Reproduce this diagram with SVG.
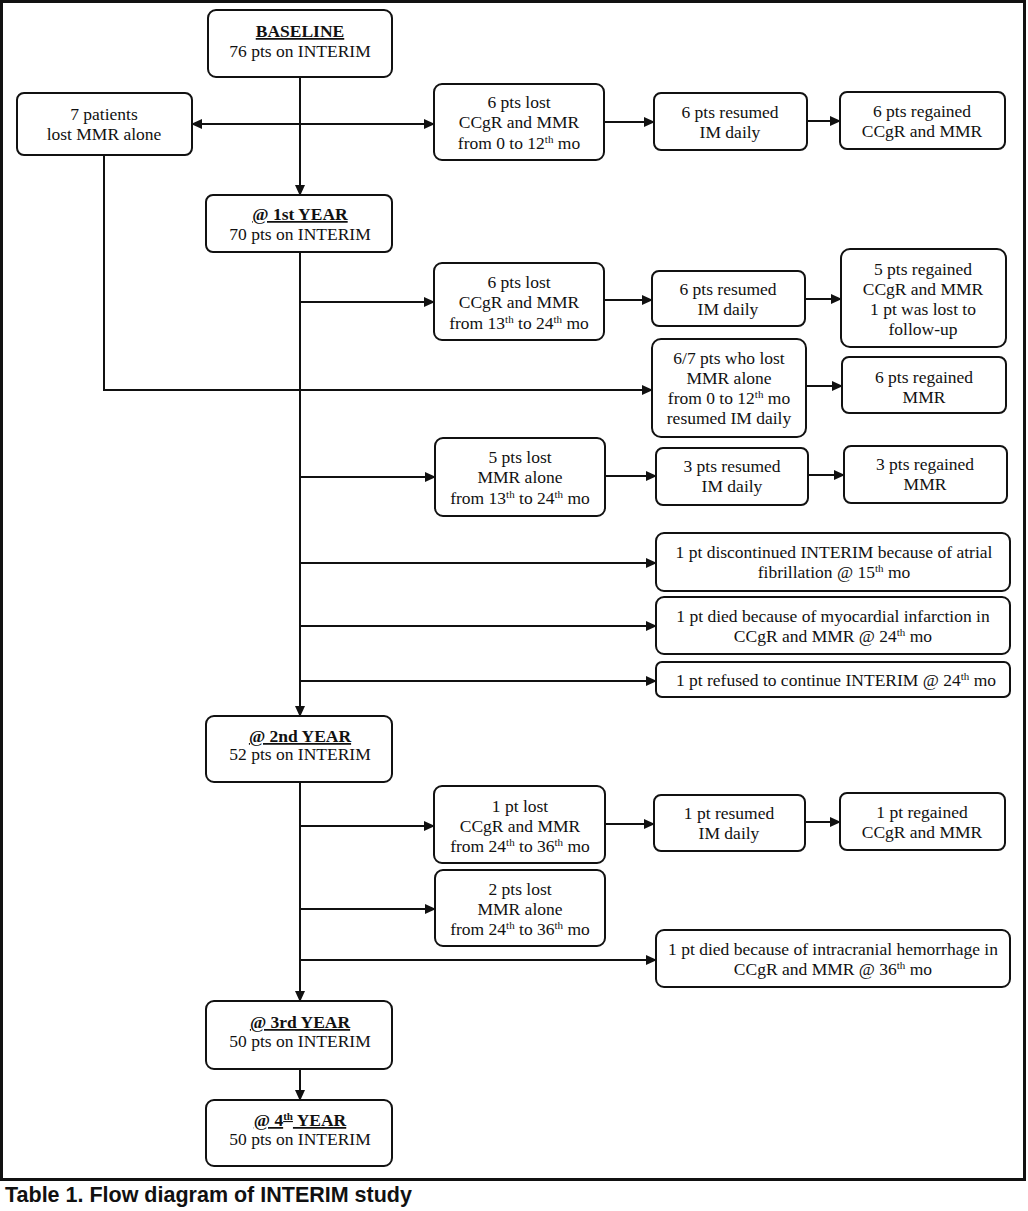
<svg xmlns="http://www.w3.org/2000/svg" width="1028" height="1211" viewBox="0 0 1028 1211">
<style>
.b{fill:#fff;stroke:#111;stroke-width:2}
.t{font-family:"Liberation Serif","Times New Roman",serif;font-size:17.5px;fill:#111;text-anchor:middle}
.w{font-size:17.5px}
.h{font-weight:bold;text-decoration:underline}
.c{fill:none;stroke:#111;stroke-width:2}
.sup{font-size:11px}
</style>
<defs>
<marker id="ah" markerWidth="11" markerHeight="10" refX="10" refY="5" orient="auto-start-reverse" markerUnits="userSpaceOnUse">
<path d="M0,0 L11,5 L0,10 z" fill="#111"/>
</marker>
</defs>
<rect x="0" y="0" width="1028" height="1211" fill="#fff"/>
<rect x="1.5" y="1.5" width="1023" height="1178" fill="none" stroke="#111" stroke-width="3"/>

<g id="connectors" class="c" marker-end="url(#ah)">
<path d="M300 77 V195"/>
<path d="M192 124 H434" marker-start="url(#ah)"/>
<path d="M604 122 H654"/>
<path d="M807 121 H840"/>
<path d="M300 252 V716"/>
<path d="M300 302 H434"/>
<path d="M604 300 H652"/>
<path d="M805 299 H841"/>
<path d="M104 155 V390 H652"/>
<path d="M806 386 H842"/>
<path d="M300 477 H435"/>
<path d="M605 476 H656"/>
<path d="M808 475 H844"/>
<path d="M300 563 H656"/>
<path d="M300 626 H656"/>
<path d="M300 681 H656"/>
<path d="M300 782 V1001"/>
<path d="M300 826 H434"/>
<path d="M605 824 H654"/>
<path d="M805 822 H840"/>
<path d="M300 909 H435"/>
<path d="M300 960 H656"/>
<path d="M300 1069 V1100"/>
</g>

<g id="baseline"><rect class="b" x="208" y="10" width="184" height="67" rx="8"/>
<text class="t" x="300" y="37"><tspan class="h">BASELINE</tspan></text>
<text class="t" x="300" y="57">76 pts on INTERIM</text></g>

<g id="seven"><rect class="b" x="17" y="93" width="175" height="62" rx="7"/>
<text class="t" x="104" y="120">7 patients</text>
<text class="t" x="104" y="140">lost MMR alone</text></g>

<g id="year1"><rect class="b" x="206" y="195" width="186" height="57" rx="7"/>
<text class="t" x="300" y="220"><tspan class="h">@ 1st YEAR</tspan></text>
<text class="t" x="300" y="240">70 pts on INTERIM</text></g>

<g id="lost1"><rect class="b" x="434" y="84" width="170" height="76" rx="8"/>
<text class="t" x="519" y="108">6 pts lost</text>
<text class="t" x="519" y="128">CCgR and MMR</text>
<text class="t" x="519" y="149">from 0 to 12<tspan class="sup" dy="-6">th</tspan><tspan dy="6"> mo</tspan></text></g>

<g id="res1"><rect class="b" x="654" y="93" width="153" height="57" rx="7"/>
<text class="t" x="730" y="118">6 pts resumed</text>
<text class="t" x="730" y="138">IM daily</text></g>

<g id="reg1"><rect class="b" x="840" y="92" width="165" height="57" rx="7"/>
<text class="t" x="922" y="117">6 pts regained</text>
<text class="t" x="922" y="137">CCgR and MMR</text></g>

<g id="lost2"><rect class="b" x="434" y="263" width="170" height="77" rx="8"/>
<text class="t" x="519" y="288">6 pts lost</text>
<text class="t" x="519" y="308">CCgR and MMR</text>
<text class="t" x="519" y="329">from 13<tspan class="sup" dy="-6">th</tspan><tspan dy="6"> to 24</tspan><tspan class="sup" dy="-6">th</tspan><tspan dy="6"> mo</tspan></text></g>

<g id="res2"><rect class="b" x="652" y="271" width="153" height="55" rx="7"/>
<text class="t" x="728" y="295">6 pts resumed</text>
<text class="t" x="728" y="315">IM daily</text></g>

<g id="reg2"><rect class="b" x="841" y="249" width="165" height="98" rx="9"/>
<text class="t" x="923" y="275">5 pts regained</text>
<text class="t" x="923" y="295">CCgR and MMR</text>
<text class="t" x="923" y="315">1 pt was lost to</text>
<text class="t" x="923" y="335">follow-up</text></g>

<g id="mmr67"><rect class="b" x="652" y="339" width="154" height="98" rx="9"/>
<text class="t" x="729" y="364">6/7 pts who lost</text>
<text class="t" x="729" y="384">MMR alone</text>
<text class="t" x="729" y="404">from 0 to 12<tspan class="sup" dy="-6">th</tspan><tspan dy="6">  mo</tspan></text>
<text class="t" x="729" y="424">resumed IM daily</text></g>

<g id="reg67"><rect class="b" x="842" y="357" width="164" height="56" rx="7"/>
<text class="t" x="924" y="383">6 pts regained</text>
<text class="t" x="924" y="403">MMR</text></g>

<g id="lost3"><rect class="b" x="435" y="438" width="170" height="78" rx="8"/>
<text class="t" x="520" y="463">5 pts lost</text>
<text class="t" x="520" y="483">MMR alone</text>
<text class="t" x="520" y="504">from 13<tspan class="sup" dy="-6">th</tspan><tspan dy="6"> to 24</tspan><tspan class="sup" dy="-6">th</tspan><tspan dy="6"> mo</tspan></text></g>

<g id="res3"><rect class="b" x="656" y="448" width="152" height="57" rx="7"/>
<text class="t" x="732" y="472">3 pts resumed</text>
<text class="t" x="732" y="492">IM daily</text></g>

<g id="reg3"><rect class="b" x="844" y="446" width="163" height="57" rx="7"/>
<text class="t" x="925" y="470">3 pts regained</text>
<text class="t" x="925" y="490">MMR</text></g>

<g id="af"><rect class="b" x="656" y="533" width="354" height="58" rx="8"/>
<text class="t w" x="834" y="558">1 pt discontinued INTERIM because of atrial</text>
<text class="t w" x="834" y="578">fibrillation @ 15<tspan class="sup" dy="-6">th</tspan><tspan dy="6"> mo</tspan></text></g>

<g id="mi"><rect class="b" x="656" y="597" width="354" height="57" rx="8"/>
<text class="t w" x="833" y="622">1 pt died because of myocardial infarction in</text>
<text class="t w" x="833" y="642">CCgR and MMR @ 24<tspan class="sup" dy="-6">th</tspan><tspan dy="6"> mo</tspan></text></g>

<g id="refused"><rect class="b" x="656" y="662" width="354" height="35" rx="6"/>
<text class="t w" x="836" y="686">1 pt refused to continue INTERIM @ 24<tspan class="sup" dy="-6">th</tspan><tspan dy="6"> mo</tspan></text></g>

<g id="year2"><rect class="b" x="206" y="716" width="186" height="66" rx="8"/>
<text class="t" x="300" y="742"><tspan class="h">@ 2nd YEAR</tspan></text>
<text class="t" x="300" y="760">52 pts on INTERIM</text></g>

<g id="lost4"><rect class="b" x="434" y="786" width="171" height="77" rx="8"/>
<text class="t" x="520" y="812">1 pt lost</text>
<text class="t" x="520" y="832">CCgR and MMR</text>
<text class="t" x="520" y="852">from 24<tspan class="sup" dy="-6">th</tspan><tspan dy="6"> to 36</tspan><tspan class="sup" dy="-6">th</tspan><tspan dy="6"> mo</tspan></text></g>

<g id="res4"><rect class="b" x="654" y="795" width="151" height="56" rx="7"/>
<text class="t" x="729" y="819">1 pt resumed</text>
<text class="t" x="729" y="839">IM daily</text></g>

<g id="reg4"><rect class="b" x="840" y="793" width="165" height="57" rx="7"/>
<text class="t" x="922" y="818">1 pt regained</text>
<text class="t" x="922" y="838">CCgR and MMR</text></g>

<g id="lost5"><rect class="b" x="435" y="870" width="170" height="76" rx="8"/>
<text class="t" x="520" y="895">2 pts lost</text>
<text class="t" x="520" y="915">MMR alone</text>
<text class="t" x="520" y="935">from 24<tspan class="sup" dy="-6">th</tspan><tspan dy="6"> to 36</tspan><tspan class="sup" dy="-6">th</tspan><tspan dy="6"> mo</tspan></text></g>

<g id="ich"><rect class="b" x="656" y="930" width="354" height="57" rx="8"/>
<text class="t w" x="833" y="955">1 pt died because of intracranial hemorrhage in</text>
<text class="t w" x="833" y="975">CCgR and MMR @ 36<tspan class="sup" dy="-6">th</tspan><tspan dy="6"> mo</tspan></text></g>

<g id="year3"><rect class="b" x="206" y="1001" width="186" height="68" rx="8"/>
<text class="t" x="300" y="1028"><tspan class="h">@ 3rd YEAR</tspan></text>
<text class="t" x="300" y="1047">50 pts on INTERIM</text></g>

<g id="year4"><rect class="b" x="206" y="1100" width="186" height="66" rx="8"/>
<text class="t" x="300" y="1126"><tspan class="h">@ 4<tspan class="sup" dy="-6">th</tspan><tspan dy="6"> YEAR</tspan></tspan></text>
<text class="t" x="300" y="1145">50 pts on INTERIM</text></g>

<text x="5" y="1202" style="font-family:'Liberation Sans',Arial,sans-serif;font-size:21.5px;font-weight:bold;fill:#111">Table 1. Flow diagram of INTERIM study</text>
</svg>
